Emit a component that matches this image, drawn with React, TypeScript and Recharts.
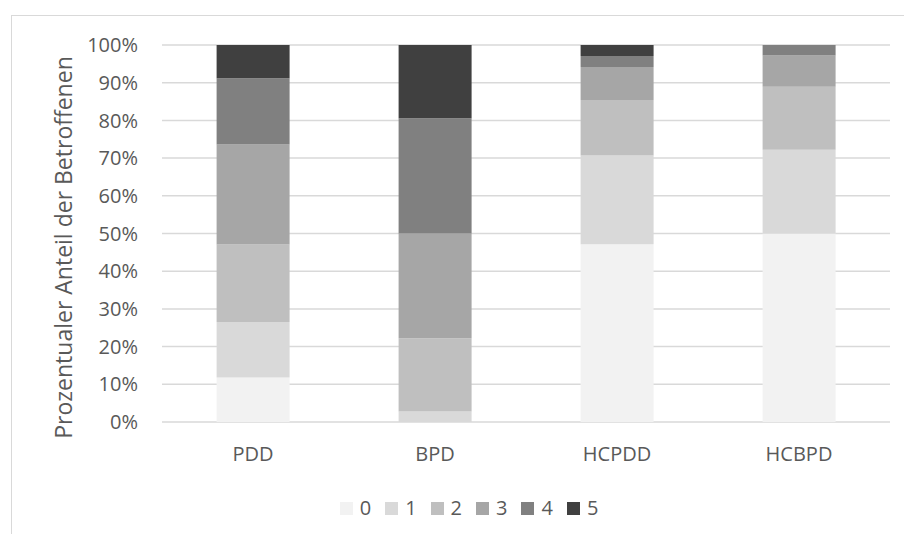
import { BarChart, Bar, XAxis, YAxis, CartesianGrid, Legend } from 'recharts'

// Anteil der Betroffenen je Schweregrad (0–5) in Prozent
const groups = ['PDD', 'BPD', 'HCPDD', 'HCBPD']
const grade0 = [11.8, 0, 47.1, 50.0]
const grade1 = [14.7, 2.8, 23.5, 22.2]
const grade2 = [20.6, 19.4, 14.7, 16.7]
const grade3 = [26.5, 27.8, 8.8, 8.3]
const grade4 = [17.6, 30.6, 2.9, 2.8]
const grade5 = [8.8, 19.4, 2.9, 0]

const yTicks = [0, 0.1, 0.2, 0.3, 0.4, 0.5, 0.6, 0.7, 0.8, 0.9, 1]

const series = [
  { key: '0', values: grade0, color: '#f2f2f2' },
  { key: '1', values: grade1, color: '#d9d9d9' },
  { key: '2', values: grade2, color: '#bfbfbf' },
  { key: '3', values: grade3, color: '#a6a6a6' },
  { key: '4', values: grade4, color: '#808080' },
  { key: '5', values: grade5, color: '#404040' }
]

const chartData = groups.map((name, i) => {
  const row: Record<string, string | number> = { name }
  series.forEach((s) => {
    row[s.key] = s.values[i]
  })
  return row
})

const font = '"Open Sans", sans-serif'
const textColor = '#595959'

function AxisTitle({ viewBox }: any) {
  const cx = viewBox.x + 63
  const cy = viewBox.y + viewBox.height / 2 + 14
  return (
    <text
      x={cx}
      y={cy}
      transform={`rotate(-90 ${cx} ${cy})`}
      textAnchor="middle"
      dominantBaseline="central"
      fill={textColor}
      fontSize={23}
      fontFamily={font}
    >
      Prozentualer Anteil der Betroffenen
    </text>
  )
}

function LegendRow() {
  return (
    <div
      style={{
        display: 'flex',
        justifyContent: 'center',
        alignItems: 'center',
        height: 24,
        gap: 14,
        fontFamily: font,
        fontSize: 20,
        color: textColor
      }}
    >
      {series.map((s) => (
        <div key={s.key} style={{ display: 'flex', alignItems: 'center' }}>
          <span style={{ width: 13, height: 13, background: s.color, marginRight: 7 }} />
          <span style={{ lineHeight: '24px' }}>{s.key}</span>
        </div>
      ))}
    </div>
  )
}

export default function App() {
  return (
    <div
      style={{
        position: 'fixed',
        left: 0,
        top: 0,
        width: 904,
        height: 534,
        overflow: 'hidden',
        background: '#fff'
      }}
    >
      <div
        style={{
          position: 'absolute',
          left: 11,
          top: 15,
          width: 914,
          height: 560,
          border: '1px solid #d9d9d9'
        }}
      />
      <div style={{ position: 'absolute', left: 0, top: 0 }}>
        <BarChart
          width={904}
          height={534}
          data={chartData}
          stackOffset="expand"
          barCategoryGap="30%"
          margin={{ top: 45, right: 14, bottom: 14, left: 0 }}
        >
          <CartesianGrid vertical={false} stroke="#d9d9d9" strokeWidth={1.5} />
          <XAxis
            dataKey="name"
            axisLine={false}
            tickLine={false}
            height={74}
            tickMargin={19}
            tick={{ fill: textColor, fontSize: 20, fontFamily: font }}
          />
          <YAxis
            width={162}
            domain={[0, 1]}
            ticks={yTicks}
            interval={0}
            axisLine={false}
            tickLine={false}
            tickMargin={18}
            tickFormatter={(v: number) => `${Math.round(v * 100)}%`}
            tick={{ fill: textColor, fontSize: 20, fontFamily: font }}
            label={{ content: AxisTitle }}
          />
          <Legend
            verticalAlign="bottom"
            align="center"
            wrapperStyle={{ left: 12, width: 914 }}
            content={() => <LegendRow />}
          />
          {series.map((s) => (
            <Bar
              key={s.key}
              dataKey={s.key}
              stackId="a"
              fill={s.color}
              isAnimationActive={false}
            />
          ))}
        </BarChart>
      </div>
    </div>
  )
}
